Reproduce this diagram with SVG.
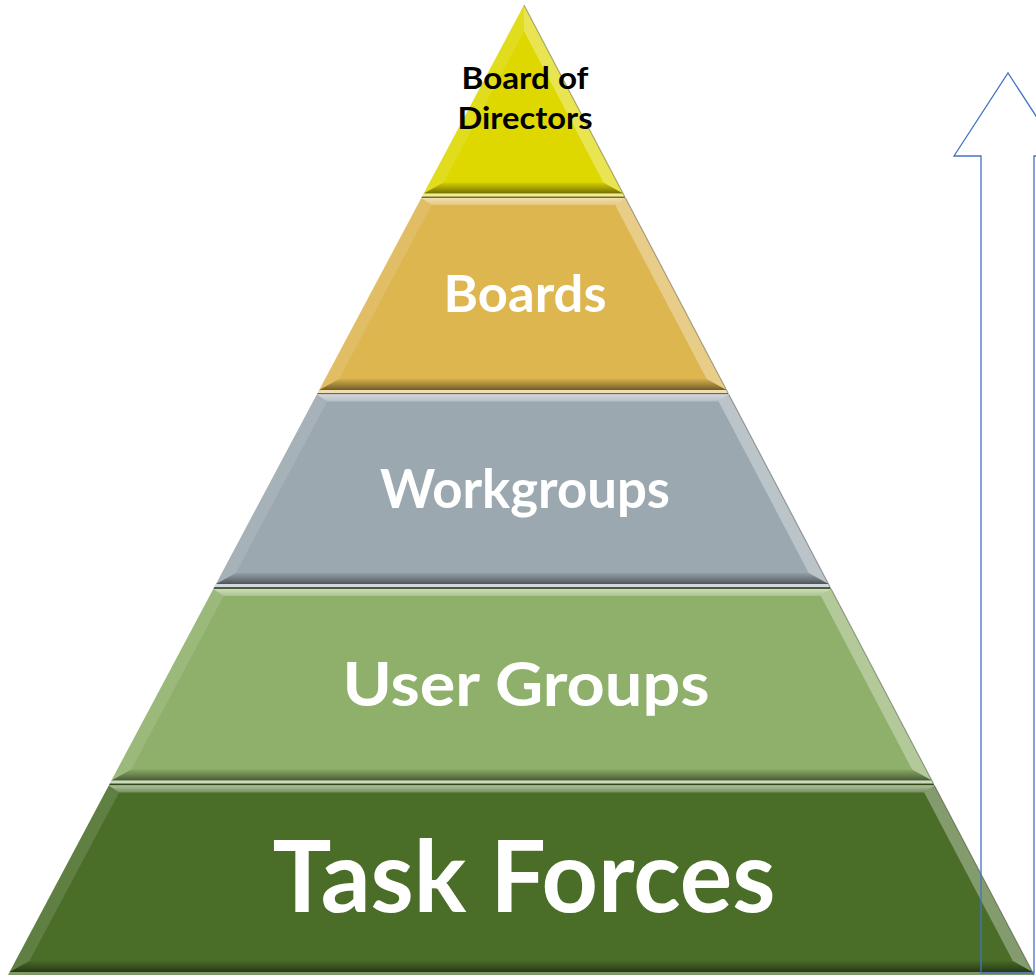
<svg xmlns="http://www.w3.org/2000/svg" width="1036" height="977" viewBox="0 0 1036 977">
  <defs>
    <linearGradient id="gBot" x1="0" y1="0" x2="0" y2="1">
      <stop offset="0" stop-color="#000" stop-opacity="0.05"/>
      <stop offset="0.6" stop-color="#000" stop-opacity="0.3"/>
      <stop offset="1" stop-color="#000" stop-opacity="0.5"/>
    </linearGradient>
    <linearGradient id="gTop" x1="0" y1="0" x2="0" y2="1">
      <stop offset="0" stop-color="#fff" stop-opacity="0.55"/>
      <stop offset="1" stop-color="#fff" stop-opacity="0.25"/>
    </linearGradient>
  </defs>
  <style>
    .top { fill: url(#gTop); }
    .bot { fill: url(#gBot); }
    .lft { fill: #ffffff; fill-opacity: 0.12; }
    .rgt { fill: #ffffff; fill-opacity: 0.32; }
    .rim { fill: #ffffff; fill-opacity: 0.55; }
    .edge { stroke: #000000; stroke-opacity: 0.3; stroke-width: 1.2; fill: none; }
    .lbl { font-family: Lato, "Open Sans", "Liberation Sans", sans-serif; font-weight: bold; text-anchor: middle; fill: #ffffff; }
    .dark { fill: #000000; }
    .arrow { fill: none; stroke: #4472C4; stroke-width: 1.3; }
  </style>

  <g id="tier-board-of-directors">
    <polygon points="524,5 624.7,196.5 422.1,196.5" fill="#DFD800"/>
    <polygon class="lft" points="524,5 524,31 443.6,182.5 423.7,193.5"/>
    <polygon class="rgt" points="524,5 623.2,193.5 603.4,182.5 524,31"/>
    <polygon class="bot" points="423.7,193.5 443.6,182.5 603.4,182.5 623.2,193.5"/>
    <polygon class="rim" points="423.7,193.5 623.2,193.5 624.7,196.5 422.1,196.5"/>
    <line class="edge" x1="524" y1="5" x2="624.7" y2="196.5"/>
    <polygon points="422.1,196.5 624.7,196.5 625.5,198 421.3,198" fill="#7A6E1E"/>
    <text class="lbl dark" x="525" y="89" font-size="30" textLength="127" lengthAdjust="spacingAndGlyphs">Board of</text>
    <text class="lbl dark" x="525" y="129" font-size="30" textLength="135" lengthAdjust="spacingAndGlyphs">Directors</text>
  </g>

  <g id="tier-boards">
    <polygon points="421.3,198 625.5,198 728.1,393 317.6,393" fill="#DDB650"/>
    <polygon class="top" points="421.3,198 625.5,198 615.2,205 431.6,205"/>
    <polygon class="lft" points="421.3,198 431.6,205 339,379 319.2,390"/>
    <polygon class="rgt" points="625.5,198 726.5,390 706.7,379 615.2,205"/>
    <polygon class="bot" points="319.2,390 339,379 706.7,379 726.5,390"/>
    <polygon class="rim" points="319.2,390 726.5,390 728.1,393 317.6,393"/>
    <line class="edge" x1="625.5" y1="198" x2="728.1" y2="393"/>
    <polygon points="317.6,393 728.1,393 728.9,394.5 316.8,394.5" fill="#5F686E"/>
    <text class="lbl" x="525" y="312" font-size="52" textLength="163" lengthAdjust="spacingAndGlyphs">Boards</text>
  </g>

  <g id="tier-workgroups">
    <polygon points="316.8,394.5 728.9,394.5 830.1,587 214.4,587" fill="#9BA8AF"/>
    <polygon class="top" points="316.8,394.5 728.9,394.5 718.6,401.5 327.1,401.5"/>
    <polygon class="lft" points="316.8,394.5 327.1,401.5 235.8,573 216,584"/>
    <polygon class="rgt" points="728.9,394.5 828.6,584 808.8,573 718.6,401.5"/>
    <polygon class="bot" points="216,584 235.8,573 808.8,573 828.6,584"/>
    <polygon class="rim" points="216,584 828.6,584 830.1,587 214.4,587"/>
    <line class="edge" x1="728.9" y1="394.5" x2="830.1" y2="587"/>
    <polygon points="214.4,587 830.1,587 831.2,589 213.3,589" fill="#4E5E3C"/>
    <text class="lbl" x="525" y="508" font-size="53" textLength="290" lengthAdjust="spacingAndGlyphs">Workgroups</text>
  </g>

  <g id="tier-user-groups">
    <polygon points="213.3,589 831.2,589 933.5,783.5 109.8,783.5" fill="#8FB06A"/>
    <polygon class="top" points="213.3,589 831.2,589 820.9,596 223.6,596"/>
    <polygon class="lft" points="213.3,589 223.6,596 131.3,769.5 111.4,780.5"/>
    <polygon class="rgt" points="831.2,589 931.9,780.5 912.1,769.5 820.9,596"/>
    <polygon class="bot" points="111.4,780.5 131.3,769.5 912.1,769.5 931.9,780.5"/>
    <polygon class="rim" points="111.4,780.5 931.9,780.5 933.5,783.5 109.8,783.5"/>
    <line class="edge" x1="831.2" y1="589" x2="933.5" y2="783.5"/>
    <polygon points="109.8,783.5 933.5,783.5 934.5,785.5 108.8,785.5" fill="#2F4A18"/>
    <text class="lbl" x="526" y="706" font-size="62" textLength="367" lengthAdjust="spacingAndGlyphs">User Groups</text>
  </g>

  <g id="tier-task-forces">
    <polygon points="108.8,785.5 934.5,785.5 1034.2,975 8,975" fill="#4A6E28"/>
    <polygon class="top" points="108.8,785.5 934.5,785.5 924.2,792.5 119.1,792.5"/>
    <polygon class="lft" points="108.8,785.5 119.1,792.5 29.4,961 9.6,972"/>
    <polygon class="rgt" points="934.5,785.5 1032.6,972 1012.9,961 924.2,792.5"/>
    <polygon class="bot" points="9.6,972 29.4,961 1012.9,961 1032.6,972"/>
    <polygon class="rim" points="9.6,972 1032.6,972 1034.2,975 8,975" style="fill-opacity:0.3"/>
    <line class="edge" x1="934.5" y1="785.5" x2="1034.2" y2="975"/>
    <text class="lbl" x="524" y="912" font-size="100" textLength="503" lengthAdjust="spacingAndGlyphs">Task Forces</text>
  </g>

  <g id="connectors">
    <path class="arrow" d="M981,973 L981,156 L954,156 L1008,73 L1062,156 L1034,156 L1034,973 Z"/>
  </g>
</svg>
